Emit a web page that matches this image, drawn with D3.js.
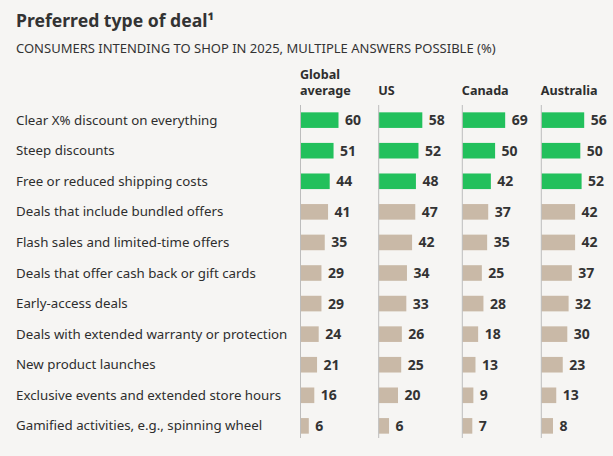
<!DOCTYPE html>
<html>
<head>
<meta charset="utf-8">
<script src="https://cdn.jsdelivr.net/npm/d3@7"></script>
<style>
  html, body { margin: 0; padding: 0; background: #f6f5f3; }
  svg { display: block; font-family: "Noto Sans", sans-serif; }
</style>
</head>
<body>
<svg id="chart" width="613" height="456"></svg>
<script>
'use strict';

var categories = [
    "Clear X% discount on everything",
    "Steep discounts",
    "Free or reduced shipping costs",
    "Deals that include bundled offers",
    "Flash sales and limited-time offers",
    "Deals that offer cash back or gift cards",
    "Early-access deals",
    "Deals with extended warranty or protection",
    "New product launches",
    "Exclusive events and extended store hours",
    "Gamified activities, e.g., spinning wheel"
];

var regions = [["Global", "average"], ["US"], ["Canada"], ["Australia"]];

var globalAvg = [60, 51, 44, 41, 35, 29, 29, 24, 21, 16, 6];
var us        = [58, 52, 48, 47, 42, 34, 33, 26, 25, 20, 6];
var canada    = [69, 50, 42, 37, 35, 25, 28, 18, 13, 9, 7];
var australia = [56, 50, 52, 42, 42, 37, 32, 30, 23, 13, 8];

// top three rows are highlighted
var highlighted = 3;

var series = [globalAvg, us, canada, australia];

var svg = d3.select("#chart");
var green = "#22c05c", tan = "#c9b9a7", ink = "#2e2e2e";

svg.append("text")
    .attr("x", 16).attr("y", 27)
    .attr("font-size", 17.6).attr("font-weight", 700)
    .attr("fill", "#333")
    .text("Preferred type of deal\u00b9");

svg.append("text")
    .attr("x", 16).attr("y", 53)
    .attr("font-size", 13)
    .attr("fill", "#333")
    .text("CONSUMERS INTENDING TO SHOP IN 2025, MULTIPLE ANSWERS POSSIBLE (%)");

var y = d3.scaleBand()
    .domain(d3.range(categories.length))
    .range([105, 441])
    .paddingInner(0.49)
    .paddingOuter(0.24);

var colStarts = [300.5, 378.7, 462.3, 541.3];

// each panel has its own stretch in the original
var widths = [
    d3.scaleLinear().domain([0, 100]).range([5, 60]),
    d3.scaleLinear().domain([0, 100]).range([6.5, 70.5]),
    d3.scaleLinear().domain([0, 100]).range([6.3, 59.3]),
    d3.scaleLinear().domain([0, 100]).range([6.5, 71.5])
];

svg.append("g").selectAll("text")
    .data(categories)
    .enter().append("text")
    .attr("x", 16)
    .attr("y", function(d, i) { return y(i) + y.bandwidth() / 2 + 4.6; })
    .attr("font-size", 13.3)
    .attr("fill", ink)
    .text(function(d) { return d; });

series.forEach(function(vals, c) {
    var x0 = colStarts[c];
    var g = svg.append("g");

    regions[c].forEach(function(line, k, arr) {
        g.append("text")
            .attr("x", x0 - 0.5)
            .attr("y", 94.5 - (arr.length - 1 - k) * 15.5)
            .attr("font-size", 12.6)
            .attr("font-weight", 700)
            .attr("fill", ink)
            .text(line);
    });

    g.selectAll("rect")
        .data(vals)
        .enter().append("rect")
        .attr("x", x0)
        .attr("y", function(d, i) { return y(i); })
        .attr("width", function(d) { return widths[c](d); })
        .attr("height", y.bandwidth())
        .attr("fill", function(d, i) { return i < highlighted ? green : tan; });

    g.append("line")
        .attr("x1", x0).attr("x2", x0)
        .attr("y1", 105).attr("y2", 438)
        .attr("stroke", "#bdbdbd").attr("stroke-width", 1);

    g.selectAll("text.val")
        .data(vals)
        .enter().append("text")
        .attr("class", "val")
        .attr("x", function(d) { return x0 + widths[c](d) + 6.5; })
        .attr("y", function(d, i) { return y(i) + y.bandwidth() / 2 + 5; })
        .attr("font-size", 14)
        .attr("font-weight", 700)
        .attr("fill", "#333")
        .text(function(d) { return d; });
});
</script>
</body>
</html>
